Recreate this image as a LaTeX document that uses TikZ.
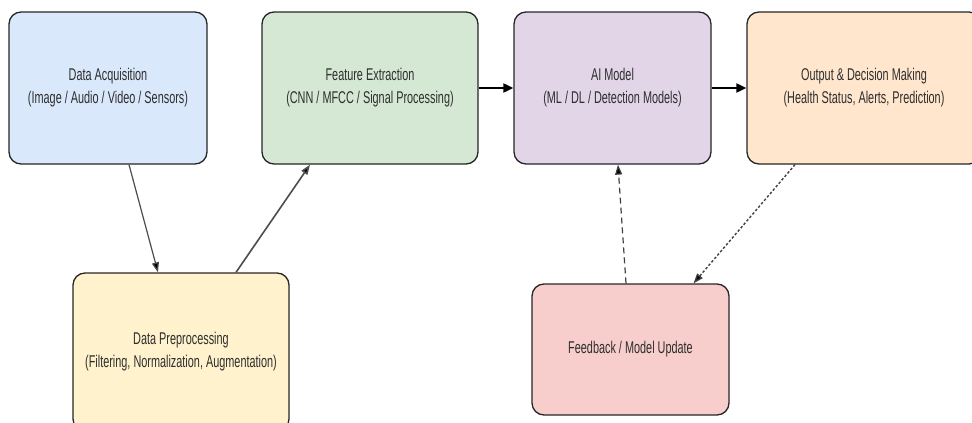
\documentclass[tikz,border=0pt]{standalone}
\usepackage{fontspec}
\setmainfont{Liberation Sans}[FakeStretch=0.64]
\usetikzlibrary{arrows.meta,calc}

\definecolor{inkgray}{HTML}{2E2E2E}
\definecolor{fillblue}{HTML}{DAE8FC}
\definecolor{fillgreen}{HTML}{D5E8D4}
\definecolor{fillpurple}{HTML}{E1D5E7}
\definecolor{fillorange}{HTML}{FFE6CC}
\definecolor{fillyellow}{HTML}{FFF2CC}
\definecolor{fillred}{HTML}{F8CECC}

\tikzset{
  stagebox/.style={draw=black!85, line width=1.3pt, rounded corners=12pt,
    align=center, text=inkgray, inner sep=0pt,
    font=\fontsize{17}{23}\selectfont},
  thinflow/.style={draw=black!70, line width=1.2pt,
    -{Triangle[length=10pt,width=7pt,fill=black]}},
  mainflow/.style={draw=black, line width=2pt,
    -{Triangle[length=10pt,width=9pt]}},
  backflow/.style={draw=black!75, line width=1.2pt, dash pattern=on 6pt off 4pt,
    -{Triangle[length=10pt,width=7pt,fill=black]}},
  reportflow/.style={draw=black!75, line width=1.4pt, dash pattern=on 2.5pt off 2pt,
    -{Triangle[length=10pt,width=7pt,fill=black]}}
}

\begin{document}
\begin{tikzpicture}[x=1pt,y=-1pt]
  \useasboundingbox (0,0) rectangle (972,423);
  \clip (0,0) rectangle (972,423);

  % pipeline stages
  \node[stagebox, fill=fillblue, minimum width=198pt, minimum height=152pt]
    (acq) at (108,88) {Data Acquisition\\(Image / Audio / Video / Sensors)};
  \node[stagebox, fill=fillgreen, minimum width=216pt, minimum height=152pt]
    (feat) at (370,88) {Feature Extraction\\(CNN / MFCC / Signal Processing)};
  \node[stagebox, fill=fillpurple, minimum width=197pt, minimum height=152pt]
    (model) at (612.5,88) {AI Model\\(ML / DL / Detection Models)};
  \node[stagebox, fill=fillorange, minimum width=234pt, minimum height=152pt]
    (out) at (864,88) {Output \& Decision Making\\(Health Status, Alerts, Prediction)};
  \node[stagebox, fill=fillyellow, minimum width=216pt, minimum height=158pt]
    (prep) at (181,352) {Data Preprocessing\\(Filtering, Normalization, Augmentation)};
  \node[stagebox, fill=fillred, minimum width=197pt, minimum height=131pt]
    (fb) at (630.5,349.5) {Feedback / Model Update};

  % forward flow
  \draw[thinflow] ([xshift=21pt]acq.south) -- ([xshift=-23pt]prep.north);
  \draw[thinflow, line width=1.6pt] ([xshift=55pt]prep.north) -- ([xshift=-60pt]feat.south);
  \draw[mainflow] (feat.east) -- (model.west);
  \draw[mainflow] (model.east) -- (out.west);

  % feedback loop
  \draw[reportflow] ([xshift=-69pt]out.south) -- ([xshift=63pt]fb.north);
  \draw[backflow] ([xshift=-4.5pt]fb.north) -- ([xshift=5.5pt]model.south);
\end{tikzpicture}
\end{document}
